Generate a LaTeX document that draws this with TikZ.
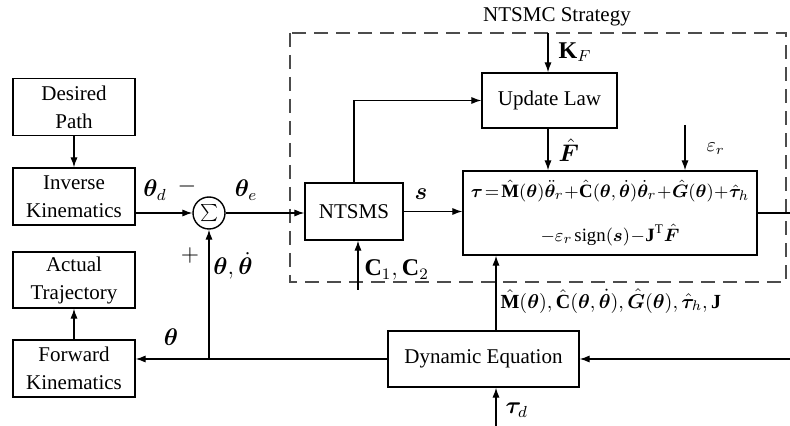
\documentclass[tikz,border=0pt]{standalone}
\usepackage{amsmath}
\usepackage{bm}
\usepackage{fontspec}
\setmainfont{Liberation Serif}
\newfontfamily\tnr{Liberation Serif}
\usepackage{tikz}
\usetikzlibrary{arrows.meta,positioning}

\begin{document}
\begin{tikzpicture}[x=0.5pt,y=-0.5pt,line width=0.6pt,
  blk/.style n args={2}{draw,line width=0.7pt,minimum width=#1*0.5pt,minimum height=#2*0.5pt,inner sep=0pt,align=center,font=\tnr\fontsize{10.5}{14}\selectfont},
  sumnode/.style={draw,circle,line width=0.7pt,minimum size=16pt,inner sep=0pt},
  lbl/.style={inner sep=0pt,font=\large},
  arr/.style={-{Latex[length=5pt,width=3.6pt]}}]
\useasboundingbox (0,0) rectangle (790,426);
% strategy frame
\draw[dash pattern=on 7pt off 4pt,black!70,line width=0.7pt] (290,33) rectangle (786,282);
\node[inner sep=0pt,font=\tnr\fontsize{10.5}{12}\selectfont](title) at(557,17) {NTSMC Strategy};
% blocks
\node[blk={122}{57}](path) at(74,107) {Desired\\Path};
\node[blk={122}{57}](ik) at(74,196.5) {Inverse\\Kinematics};
\node[blk={122}{56}](at) at(74,280) {Actual\\Trajectory};
\node[blk={122}{57}](fk) at(74,368.5) {Forward\\Kinematics};
\node[sumnode](sum) at(209,213) {\resizebox{9pt}{!}{$\sum$}};
\node[blk={98}{57}](ntsms) at(354,211.5) {NTSMS};
\node[blk={135}{55}](ul) at(549.5,100.5) {Update Law};
\node[blk={294}{84},font=\fontsize{9.4}{17}\selectfont](ctrl) at(610,213) {%
  \medmuskip=0.5mu\thickmuskip=2mu
  $\bm{\tau}=\hat{\mathbf{M}}(\bm{\theta})\ddot{\bm{\theta}}_r+\hat{\mathbf{C}}(\bm{\theta},\dot{\bm{\theta}})\dot{\bm{\theta}}_r+\hat{\bm{G}}(\bm{\theta})+\hat{\bm{\tau}}_h$\\[5pt]
  \medmuskip=0.5mu\thickmuskip=2mu
  $-\varepsilon_r\;\mathrm{sign}(\bm{s})-\mathbf{J}^{\mathrm{T}}\hat{\bm{F}}$};
\node[blk={191}{56}](de) at(483.5,359) {Dynamic Equation};
% free ends
\coordinate (kf0) at(548,33);
\coordinate (er0) at(685,125);
\coordinate (cc0) at(358,290);
\coordinate (td0) at(496,426);
\coordinate (out) at(790,213);
\coordinate (in) at(790,359);
\coordinate (jn) at(209,359);
% connectors
\draw[arr] (path) -- (ik);
\draw[arr] (ik.east |- sum.west) -- (sum.west);
\draw[arr] (sum.east) -- (sum.east -| ntsms.west);
\draw[arr] (ntsms.north) |- (ul.west);
\draw[arr] (kf0) -- (kf0 |- ul.north);
\draw[arr] (ul.south -| kf0) -- (kf0 |- ctrl.north);
\draw[arr] (er0) -- (er0 |- ctrl.north);
\draw[arr] (ntsms.east) -- (ntsms.east -| ctrl.west);
\draw[arr] (cc0) -- (cc0 |- ntsms.south);
\draw (ctrl.east |- out) -- (out);
\draw[arr] (in) -- (in -| de.east);
\draw[arr] (td0) -- (td0 |- de.south);
\draw[arr] (td0 |- de.north) -- (td0 |- ctrl.south);
\draw[arr] (de.west) -- (de.west -| fk.east);
\draw[arr] (jn) -- (sum.south);
\draw[arr] (fk.north) -- (at.south);
% labels
\node[lbl](thd) at(155,190) {$\bm{\theta}_d$};
\node[lbl](minus) at(187,187) {$-$};
\node[lbl](plus) at(190,256) {$+$};
\node[lbl](the) at(246,190) {$\bm{\theta}_e$};
\node[lbl](thdot) at(233,266) {$\bm{\theta},\dot{\bm{\theta}}$};
\node[lbl](th) at(171,337) {$\bm{\theta}$};
\node[lbl](sl) at(421,194) {$\bm{s}$};
\node[lbl,anchor=west](kf) at(558,52) {$\mathbf{K}_F$};
\node[lbl,anchor=west](fh) at(558,150) {$\hat{\bm{F}}$};
\node[lbl,anchor=west,font=\normalsize](er) at(706,149) {$\varepsilon_r$};
\node[lbl,anchor=west](cc) at(364,270) {$\mathbf{C}_1,\mathbf{C}_2$};
\node[lbl,anchor=west,font=\normalsize](est) at(500,301) {\medmuskip=1mu$\hat{\mathbf{M}}(\bm{\theta}),\hat{\mathbf{C}}(\bm{\theta},\dot{\bm{\theta}}),\hat{\bm{G}}(\bm{\theta}),\hat{\bm{\tau}}_h,\mathbf{J}$};
\node[lbl,anchor=west](td) at(505,410) {$\bm{\tau}_d$};
\end{tikzpicture}
\end{document}
